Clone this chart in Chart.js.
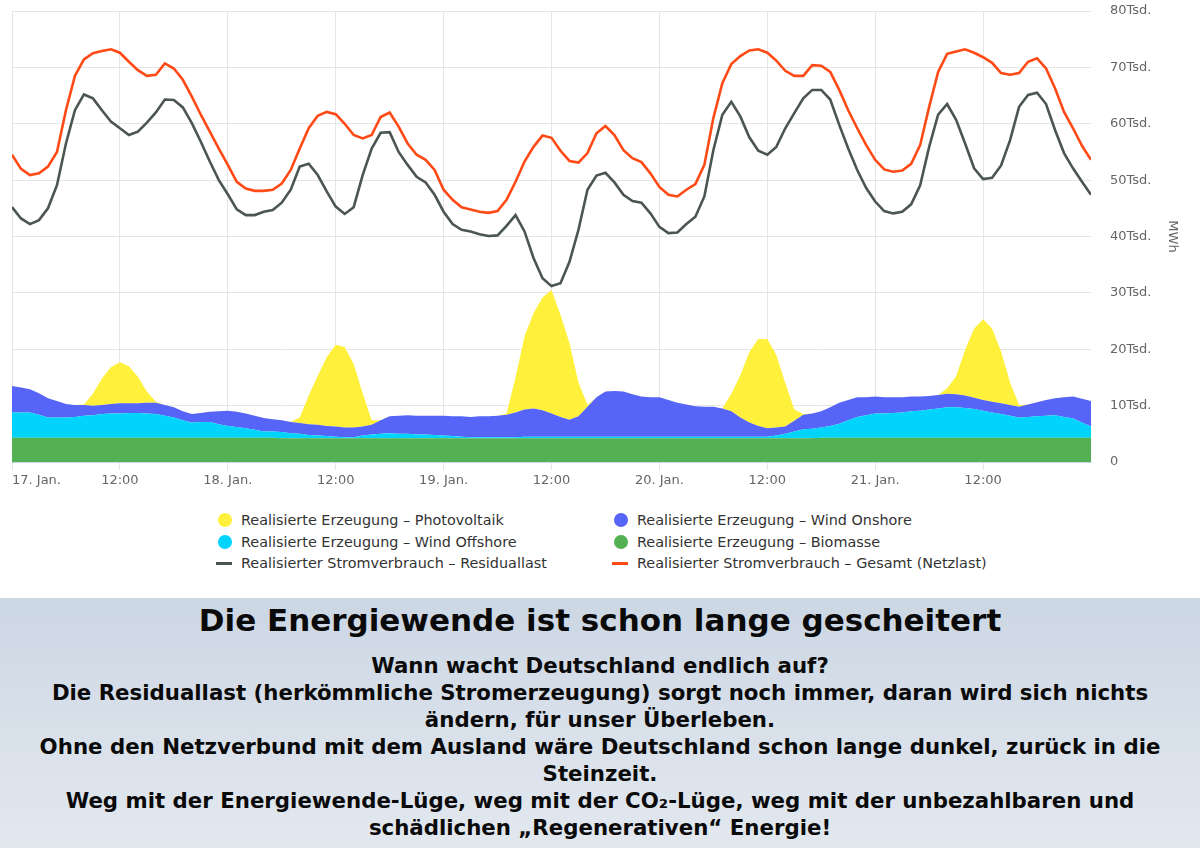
<!DOCTYPE html>
<html>
<head>
<meta charset="utf-8">
<script src="https://cdn.jsdelivr.net/npm/chart.js@4/dist/chart.umd.min.js"></script>
<style>
  html, body { margin:0; padding:0; background:#fff; }
  body { width:1200px; height:848px; position:relative; overflow:hidden; font-family:"DejaVu Sans", Verdana, sans-serif; }
  #chartBox { position:absolute; left:0; top:0; width:1200px; height:495px; }
  #legend { position:absolute; left:0; top:509px; width:1200px; height:70px; }
  .li { position:absolute; font-size:14.4px; color:#333; line-height:20px; white-space:nowrap; }
  .mk { position:absolute; }
  #panel { position:absolute; left:0; top:598px; width:1200px; height:250px;
           background:linear-gradient(to bottom, #ccd7e4, #e3e8ef); }
  #ptitle { position:absolute; left:0; top:2px; width:1200px; text-align:center; font-weight:bold;
            font-size:31px; line-height:40px; color:#0a0a0a; }
  #ptext { position:absolute; left:0; top:54px; width:1200px; text-align:center; font-weight:bold;
           font-size:21.3px; line-height:27px; color:#0a0a0a; white-space:nowrap; }
</style>
</head>
<body>
<div id="chartBox"><canvas id="c"></canvas></div>
<div id="legend"></div>
<div id="panel">
  <div id="ptitle">Die Energiewende ist schon lange gescheitert</div>
  <div id="ptext">Wann wacht Deutschland endlich auf?<br>Die Residuallast (herkömmliche Stromerzeugung) sorgt noch immer, daran wird sich nichts<br>ändern, für unser Überleben.<br>Ohne den Netzverbund mit dem Ausland wäre Deutschland schon lange dunkel, zurück in die<br>Steinzeit.<br>Weg mit der Energiewende-Lüge, weg mit der CO₂-Lüge, weg mit der unbezahlbaren und<br>schädlichen „Regenerativen“ Energie!</div>
</div>
<script>
// hours since 17. Jan. 00:00 (hourly values, in thousand MWh)
const hours = Array.from({length:121}, (_, i) => i);
const xTickLabels = ["17. Jan.","12:00","18. Jan.","12:00","19. Jan.","12:00","20. Jan.","12:00","21. Jan.","12:00",""];
const yTickValues = [0,10,20,30,40,50,60,70,80];

const seriesNames = [
  "Realisierte Erzeugung – Photovoltaik",
  "Realisierte Erzeugung – Wind Onshore",
  "Realisierte Erzeugung – Wind Offshore",
  "Realisierte Erzeugung – Biomasse",
  "Realisierter Stromverbrauch – Residuallast",
  "Realisierter Stromverbrauch – Gesamt (Netzlast)"
];

const gesamt = [
 54.5,52.0,50.9,51.2,52.4,55.0,62.4,68.5,71.4,72.5,72.9,73.2,
 72.6,71.0,69.5,68.5,68.7,70.7,69.8,67.8,64.8,61.6,58.6,55.6,
 52.7,49.7,48.5,48.1,48.1,48.3,49.4,51.8,55.6,59.2,61.4,62.1,
 61.7,60.0,58.0,57.4,58.0,61.2,62.0,59.5,56.5,54.5,53.6,51.8,
 48.3,46.5,45.2,44.8,44.4,44.2,44.5,46.5,49.7,53.3,55.9,57.9,
 57.5,55.2,53.4,53.1,54.8,58.3,59.6,58.0,55.3,53.9,53.2,51.2,
 48.8,47.4,47.1,48.3,49.3,52.7,61.0,67.2,70.6,72.0,73.0,73.2,
 72.6,71.2,69.4,68.5,68.5,70.4,70.3,69.2,66.0,62.4,59.2,56.2,
 53.6,51.9,51.5,51.7,52.9,56.2,63.0,69.2,72.4,72.8,73.2,72.6,
 71.8,70.8,69.0,68.7,69.0,71.0,71.6,69.8,66.3,62.1,59.2,56.1,
 53.6];

const residual = [
 45.2,43.2,42.2,42.9,45.0,49.1,56.5,62.4,65.2,64.5,62.4,60.4,
 59.2,58.0,58.6,60.2,62.0,64.3,64.2,62.9,60.1,56.8,53.3,50.0,
 47.5,44.8,43.8,43.8,44.4,44.7,46.0,48.3,52.4,52.9,50.9,48.0,
 45.3,44.0,45.2,50.9,55.6,58.4,58.5,55.0,52.7,50.6,49.6,47.4,
 44.4,42.2,41.2,40.9,40.4,40.1,40.2,41.9,43.8,40.9,36.2,32.6,
 31.2,31.7,35.5,41.2,48.3,50.8,51.3,49.6,47.4,46.3,46.0,44.1,
 41.7,40.6,40.7,42.2,43.5,47.1,55.3,61.6,63.9,61.3,57.6,55.2,
 54.5,55.9,59.2,61.9,64.5,66.0,66.0,64.3,59.8,55.6,51.8,48.6,
 46.2,44.5,44.1,44.4,45.7,49.1,55.9,61.6,63.5,60.7,56.5,52.1,
 50.2,50.4,52.6,57.1,63.0,65.1,65.5,63.5,58.9,54.8,52.1,49.7,
 47.4];

const biomasse = [
 4.3,4.3,4.3,4.3,4.3,4.3,4.3,4.3,4.3,4.3,4.3,4.3,
 4.3,4.3,4.3,4.3,4.3,4.3,4.3,4.3,4.3,4.3,4.3,4.3,
 4.3,4.3,4.3,4.3,4.3,4.3,4.2,4.2,4.2,4.2,4.2,4.2,
 4.2,4.2,4.2,4.2,4.2,4.2,4.2,4.2,4.2,4.2,4.2,4.2,
 4.2,4.2,4.2,4.2,4.2,4.2,4.2,4.2,4.2,4.2,4.2,4.2,
 4.2,4.2,4.2,4.2,4.2,4.2,4.2,4.2,4.2,4.2,4.2,4.2,
 4.2,4.2,4.2,4.2,4.2,4.2,4.2,4.2,4.2,4.2,4.2,4.2,
 4.2,4.2,4.2,4.2,4.2,4.2,4.3,4.3,4.3,4.3,4.3,4.3,
 4.3,4.3,4.3,4.3,4.3,4.3,4.3,4.3,4.3,4.3,4.3,4.3,
 4.3,4.3,4.3,4.3,4.3,4.3,4.3,4.3,4.3,4.3,4.3,4.3,
 4.3];

const windOffshore = [
 4.5,4.5,4.5,4.1,3.6,3.6,3.6,3.7,3.9,4.0,4.2,4.3,
 4.3,4.4,4.4,4.3,4.2,3.9,3.6,3.1,2.7,2.8,2.8,2.4,
 2.1,1.9,1.7,1.4,1.1,1.1,1.1,0.9,0.8,0.6,0.5,0.4,
 0.3,0.2,0.2,0.5,0.7,0.8,0.9,0.8,0.8,0.7,0.7,0.6,
 0.5,0.4,0.3,0.2,0.2,0.2,0.2,0.2,0.2,0.3,0.3,0.3,
 0.3,0.3,0.3,0.3,0.3,0.3,0.3,0.3,0.3,0.3,0.3,0.3,
 0.3,0.3,0.3,0.3,0.3,0.3,0.3,0.3,0.3,0.3,0.3,0.3,
 0.3,0.5,0.8,1.2,1.6,1.7,1.8,2.1,2.5,3.1,3.7,4.0,
 4.3,4.3,4.4,4.5,4.7,4.8,5.0,5.2,5.4,5.4,5.3,5.1,
 4.8,4.5,4.2,3.9,3.6,3.7,3.8,3.9,4.0,3.7,3.4,2.7,
 2.0];

const windOnshore = [
 4.7,4.4,4.1,3.8,3.4,2.9,2.4,2.1,1.9,1.7,1.6,1.7,
 1.8,1.7,1.7,1.9,2.0,1.9,1.8,1.6,1.5,1.6,1.8,2.3,
 2.7,2.7,2.6,2.5,2.4,2.2,2.1,2.0,1.9,1.9,1.9,1.8,
 1.8,1.7,1.7,1.6,1.7,2.4,3.0,3.2,3.3,3.3,3.3,3.4,
 3.5,3.5,3.6,3.6,3.7,3.7,3.8,4.0,4.4,4.8,5.0,4.7,
 4.1,3.5,3.0,3.6,5.3,7.0,8.0,8.1,8.0,7.5,7.1,7.0,
 7.0,6.5,6.0,5.7,5.4,5.3,5.3,5.0,4.5,3.4,2.5,1.9,
 1.5,1.4,1.3,1.9,2.6,2.7,2.9,3.3,3.7,3.6,3.5,3.2,
 3.0,2.9,2.8,2.7,2.6,2.5,2.4,2.4,2.4,2.3,2.2,2.0,
 1.9,1.9,1.9,1.9,1.9,2.2,2.5,2.8,3.0,3.5,3.9,4.2,
 4.5];

const photovoltaik = [
 0,0,0,0,0,0,0,0,0.1,2.1,4.7,6.5,
 7.3,6.6,4.7,2.0,0.2,0,0,0,0,0,0,0,
 0,0,0,0,0,0,0,0,1.0,5.1,8.7,12.2,
 14.5,14.3,11.3,5.9,0.8,0,0,0,0,0,0,0,
 0,0,0,0,0,0,0,0.2,6.2,13.0,16.9,20.0,
 21.9,18.1,13.6,6.0,0.3,0,0,0,0,0,0,0,
 0,0,0,0,0,0,0,0,3.1,7.5,12.5,15.4,
 15.8,12.9,7.7,2.0,0.1,0,0,0,0,0,0,0,
 0,0,0,0,0,0,0,0,1.0,3.2,8.1,12.3,
 14.3,13.0,9.2,4.0,0.3,0,0,0,0,0,0,0,
 0];

const colors = {
  pv: "#fff03c", onshore: "#5664f7", offshore: "#00d4fd", bio: "#53b153",
  residual: "#4b5651", gesamt: "#ff4a16"
};

const pts = arr => arr.map((v, i) => ({x: hours[i], y: v}));

const lineDs = (label, data, color) => ({
  label, data: pts(data), borderColor: color, backgroundColor: color,
  borderWidth: 2.6, pointRadius: 0, tension: 0, fill: false, stack: label
});
const areaDs = (label, data, color, fill) => ({
  label, data: pts(data), borderColor: color, backgroundColor: color,
  borderWidth: 0, pointRadius: 0, tension: 0, fill, stack: "erzeugung"
});

const datasets = [
  lineDs(seriesNames[4], residual, colors.residual),
  lineDs(seriesNames[5], gesamt, colors.gesamt),
  areaDs(seriesNames[3], biomasse, colors.bio, "origin"),
  areaDs(seriesNames[2], windOffshore, colors.offshore, "stack"),
  areaDs(seriesNames[1], windOnshore, colors.onshore, "stack"),
  areaDs(seriesNames[0], photovoltaik, colors.pv, "stack")
];

Chart.defaults.font.family = '"DejaVu Sans", Verdana, sans-serif';
Chart.defaults.font.size = 13;
Chart.defaults.color = "#666";

const gridCol = "#e6e6e6";
new Chart(document.getElementById("c"), {
  type: "line",
  data: { datasets },
  options: {
    responsive: true, maintainAspectRatio: false, animation: false,
    layout: { padding: { left: 12, right: 16, top: 11, bottom: 0 } },
    plugins: { legend: { display: false }, tooltip: { enabled: false } },
    scales: {
      x: {
        type: "linear", min: 0, max: 120,
        afterBuildTicks: s => { s.ticks = xTickLabels.map((_, i) => ({value: i * 12})); },
        afterFit: s => { s.height = 33; },
        ticks: { autoSkip: false, maxRotation: 0, align: "inner", padding: 3,
                 callback: v => xTickLabels[Math.round(v / 12)] },
        grid: { color: c => (c.tick && c.tick.value === 120) ? "rgba(0,0,0,0)" : gridCol,
                tickLength: 8, drawTicks: true },
        border: { display: true, color: "#ccd6eb", width: 1 }
      },
      y: {
        position: "right", min: 0, max: 80, stacked: true,
        afterBuildTicks: s => { s.ticks = yTickValues.map(v => ({value: v})); },
        afterFit: s => { s.width = 93; },
        ticks: { padding: 3, callback: v => v === 0 ? "0" : v + "Tsd." },
        grid: { color: gridCol, drawTicks: true, tickLength: 16, tickColor: "rgba(0,0,0,0)" },
        border: { display: false },
        title: { display: true, text: "MWh", color: "#666", font: { size: 13 }, padding: 4 }
      }
    }
  }
});

// HTML legend
const legendItems = [
  { name: seriesNames[0], color: colors.pv, type: "circle", col: 0, row: 0 },
  { name: seriesNames[1], color: colors.onshore, type: "circle", col: 1, row: 0 },
  { name: seriesNames[2], color: colors.offshore, type: "circle", col: 0, row: 1 },
  { name: seriesNames[3], color: colors.bio, type: "circle", col: 1, row: 1 },
  { name: seriesNames[4], color: colors.residual, type: "line", col: 0, row: 2 },
  { name: seriesNames[5], color: colors.gesamt, type: "line", col: 1, row: 2 }
];
const lg = document.getElementById("legend");
const colX = [241, 637];
legendItems.forEach(it => {
  const cy = 11 + it.row * 21.5;
  const mk = document.createElement("div");
  mk.className = "mk";
  if (it.type === "circle") {
    Object.assign(mk.style, { left: (colX[it.col] - 23) + "px", top: (cy - 7) + "px",
      width: "14px", height: "14px", borderRadius: "50%", background: it.color });
  } else {
    Object.assign(mk.style, { left: (colX[it.col] - 25) + "px", top: (cy - 1) + "px",
      width: "16px", height: "3px", background: it.color });
  }
  lg.appendChild(mk);
  const t = document.createElement("div");
  t.className = "li";
  t.textContent = it.name;
  t.style.left = colX[it.col] + "px";
  t.style.top = (cy - 10) + "px";
  lg.appendChild(t);
});
</script>
</body>
</html>
